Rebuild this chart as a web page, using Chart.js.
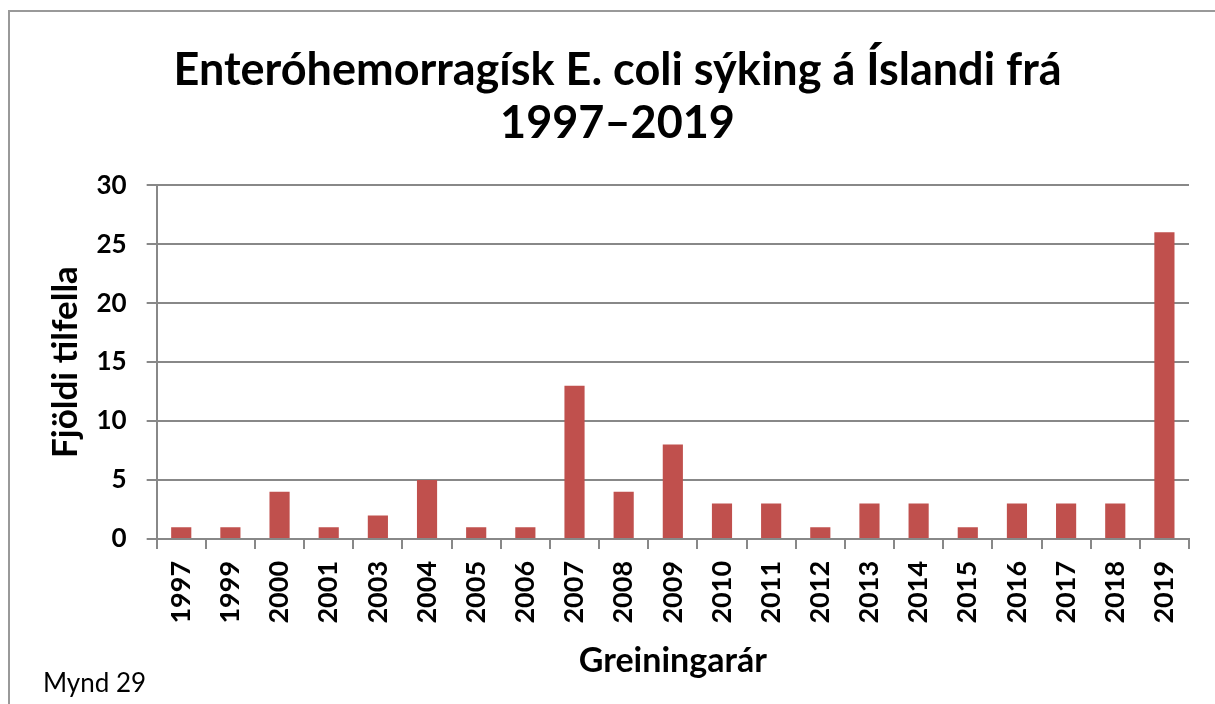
<!DOCTYPE html>
<html lang="is">
<head>
    <meta charset="UTF-8">
    <title>Enteróhemorragísk E. coli sýking á Íslandi</title>
    <style>
        body {
            margin: 0;
            background: #fff;
            font-family: Lato, Arial, sans-serif;
        }
        .wrap {
            position: relative;
            width: 1215px;
            height: 704px;
        }
        .frame {
            position: absolute;
            left: 8px;
            top: 10px;
            right: 0;
            bottom: 0;
            border-left: 2px solid #999;
            border-top: 2px solid #999;
        }
        .note {
            position: absolute;
            left: 43px;
            top: 669px;
            font-size: 26px;
            line-height: 26px;
            color: #000;
        }
        canvas {
            position: absolute;
            left: 0;
            top: 0;
        }
    </style>
    <script src="https://cdn.jsdelivr.net/npm/chart.js"></script>
</head>
<body>
    <div class="wrap">
        <div class="frame"></div>
        <canvas id="ehecChart" width="1215" height="704"></canvas>
        <div class="note">Mynd 29</div>
    </div>

    <script>
        // Data
        const years = ['1997', '1999', '2000', '2001', '2003', '2004', '2005', '2006', '2007', '2008', '2009',
                       '2010', '2011', '2012', '2013', '2014', '2015', '2016', '2017', '2018', '2019'];
        const cases = [1, 1, 4, 1, 2, 5, 1, 1, 13, 4, 8, 3, 3, 1, 3, 3, 1, 3, 3, 3, 26];
        const yTicks = [0, 5, 10, 15, 20, 25, 30];

        const ctx = document.getElementById('ehecChart').getContext('2d');
        new Chart(ctx, {
            type: 'bar',
            data: {
                labels: years,
                datasets: [{
                    label: 'Fjöldi tilfella',
                    data: cases,
                    backgroundColor: '#C0504D',
                    borderWidth: 0,
                    barPercentage: 0.41,
                    categoryPercentage: 1.0
                }]
            },
            options: {
                responsive: false,
                animation: false,
                layout: {
                    padding: { left: 46, right: 26, top: 44, bottom: 24 }
                },
                plugins: {
                    legend: { display: false },
                    tooltip: { enabled: false },
                    title: {
                        display: true,
                        text: ['Enteróhemorragísk E. coli sýking á Íslandi frá', '1997–2019'],
                        color: '#000',
                        font: { family: 'Lato', size: 45, weight: 'bold', lineHeight: 1.18 },
                        padding: { top: 0, bottom: 35 }
                    }
                },
                scales: {
                    x: {
                        grid: {
                            display: true,
                            drawOnChartArea: false,
                            offset: true,
                            color: '#888',
                            lineWidth: 2,
                            tickLength: 10
                        },
                        border: { color: '#888', width: 2 },
                        ticks: {
                            color: '#000',
                            minRotation: 90,
                            maxRotation: 90,
                            autoSkip: false,
                            padding: 12,
                            font: { family: 'Lato', size: 27, weight: 'bold' }
                        },
                        title: {
                            display: true,
                            text: 'Greiningarár',
                            color: '#000',
                            font: { family: 'Lato', size: 34, weight: 'bold', lineHeight: 1.1 },
                            padding: { top: 7, bottom: 0 }
                        }
                    },
                    y: {
                        min: 0,
                        max: 30,
                        afterBuildTicks: axis => {
                            axis.ticks = yTicks.map(v => ({ value: v }));
                        },
                        grid: {
                            color: '#888',
                            lineWidth: 2,
                            tickLength: 10
                        },
                        border: { color: '#888', width: 2 },
                        ticks: {
                            color: '#000',
                            padding: 20,
                            font: { family: 'Lato', size: 26, weight: 'bold' }
                        },
                        title: {
                            display: true,
                            text: 'Fjöldi tilfella',
                            color: '#000',
                            font: { family: 'Lato', size: 35, weight: 'bold', lineHeight: 1.1 },
                            padding: { top: 0, bottom: -8 }
                        }
                    }
                }
            }
        });
    </script>
</body>
</html>
